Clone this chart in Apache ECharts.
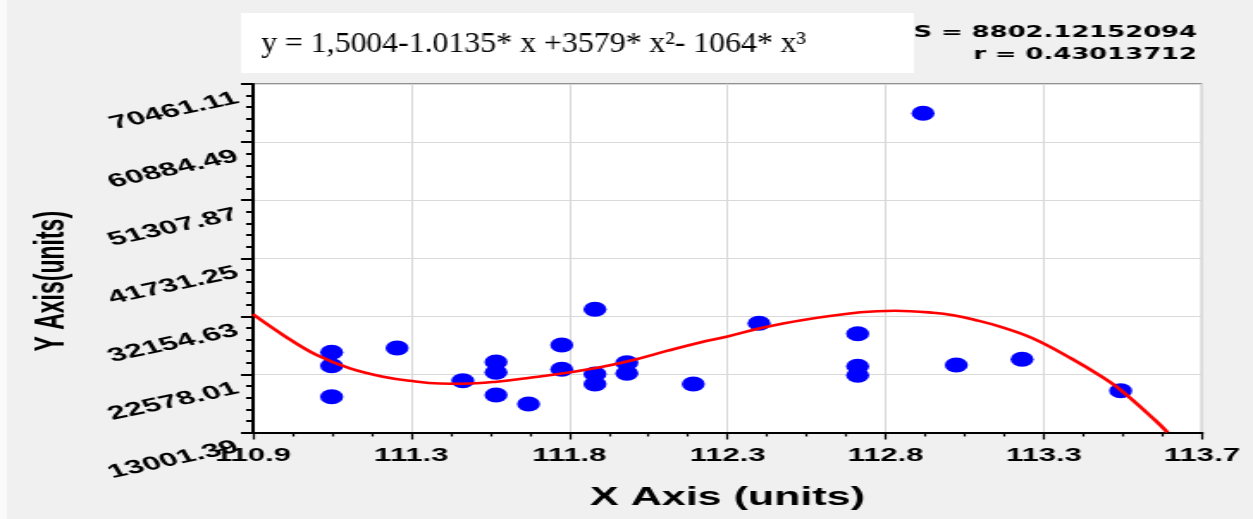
<!DOCTYPE html>
<html>
<head>
<meta charset="utf-8">
<script src="https://cdn.jsdelivr.net/npm/echarts@6/dist/echarts.min.js"></script>
<style>
  html, body { margin: 0; padding: 0; background: #f0f0f0; overflow: hidden; }
  #chart { width: 728px; height: 519px; transform-origin: 0 0; }
</style>
</head>
<body>
<div id="chart"></div>
<script>
// ---- data ----
const xTickLabels = ['110.9', '111.3', '111.8', '112.3', '112.8', '113.3', '113.7'];
const yTickLabels = ['13001.39', '22578.01', '32154.63', '41731.25', '51307.87', '60884.49', '70461.11'];
const X_MIN = 110.9, X_MAX = 113.7;
const Y_MIN = 13001.39, Y_MAX = 70461.11, Y_STEP = 9576.62;

const pointX = [111.132, 111.132, 111.132, 111.325, 111.519, 111.617, 111.617, 111.617, 111.713,
                111.811, 111.811, 111.909, 111.909, 111.909, 112.003, 112.003, 112.199, 112.393,
                112.684, 112.684, 112.684, 112.877, 112.975, 113.169, 113.460];
const pointY = [26224, 24014, 18904, 26933, 21541, 24625, 22926, 19184, 17700,
                27427, 23421, 33313, 22646, 20997, 24509, 22761, 20997, 31005,
                29290, 23915, 22432, 65628, 24130, 25069, 19893];

const curveX = [110.9, 110.989, 111.088, 111.186, 111.284, 111.363, 111.452, 111.520, 111.619, 111.727,
                111.816, 111.924, 112.022, 112.121, 112.219, 112.297, 112.396, 112.523, 112.692, 112.794,
                112.907, 112.970, 113.031, 113.104, 113.200, 113.313, 113.404, 113.460, 113.561, 113.598];
const curveY = [32489, 29076, 25778, 23586, 22201, 21525, 21080, 21047, 21376, 22102,
                22761, 23751, 24954, 26450, 27850, 28796, 30180, 31549, 32818, 33082,
                32752, 32290, 31549, 30450, 28532, 25234, 22201, 20008, 15062, 13034];

const equationText = 'y = 1,5004-1.0135* x +3579* x\u00B2- 1064* x\u00B3';
const statS = 'S = 8802.12152094';
const statR = 'r = 0.43013712';

// ---- layout (reference is horizontally stretched) ----
const SX = 1253 / 728;
const dom = document.getElementById('chart');
dom.style.transform = 'scaleX(' + SX + ')';
const X_STEP = (X_MAX - X_MIN) / 6;

const chart = echarts.init(dom);
chart.setOption({
  backgroundColor: '#f0f0f0',
  animation: false,
  grid: {
    left: 253 / SX, right: 728 - 1202 / SX, top: 84, bottom: 86.5,
    show: true, backgroundColor: '#ffffff', borderColor: '#333', borderWidth: 1
  },
  xAxis: {
    type: 'value', min: X_MIN, max: X_MAX, interval: X_STEP,
    name: 'X Axis (units)', nameLocation: 'middle', nameGap: 53,
    nameTextStyle: { fontFamily: 'Liberation Sans', fontWeight: 'bold', fontSize: 25, color: '#000' },
    axisLine: { show: true, onZero: false, lineStyle: { color: '#000', width: 2 } },
    axisTick: { show: true, length: 7, lineStyle: { color: '#000', width: 1.2 } },
    minorTick: { show: true, splitNumber: 4, length: 4, lineStyle: { color: '#000', width: 1.2 } },
    splitLine: { show: true, lineStyle: { color: '#d9d9d9', width: 1 } },
    axisLabel: {
      margin: 15, fontFamily: 'Liberation Sans', fontWeight: 'bold', fontSize: 18, color: '#000',
      showMinLabel: true, showMaxLabel: true,
      formatter: function (v) {
        const i = Math.round((v - X_MIN) / X_STEP);
        return xTickLabels[i] !== undefined ? xTickLabels[i] : '';
      }
    }
  },
  yAxis: {
    type: 'value', min: Y_MIN, max: Y_MAX, interval: Y_STEP,
    name: 'Y Axis(units)', nameLocation: 'middle', nameGap: 105, nameRotate: 90,
    nameTextStyle: { fontFamily: 'Liberation Sans', fontWeight: 'bold', fontSize: 23, color: '#000', padding: [0, 46, 0, 0] },
    axisLine: { show: true, onZero: false, lineStyle: { color: '#000', width: 2 } },
    axisTick: { show: true, length: 7, lineStyle: { color: '#000', width: 2 } },
    minorTick: { show: true, splitNumber: 5, length: 4, lineStyle: { color: '#000', width: 2 } },
    splitLine: { show: true, lineStyle: { color: '#d9d9d9', width: 1 } },
    axisLabel: {
      margin: 14, rotate: 20, align: 'right', verticalAlign: 'top', padding: [5, 0, 0, 0],
      fontFamily: 'Liberation Sans', fontWeight: 'bold', fontSize: 19, color: '#000',
      showMinLabel: true, showMaxLabel: true,
      formatter: function (v) {
        const i = Math.round((v - Y_MIN) / Y_STEP);
        return yTickLabels[i] !== undefined ? yTickLabels[i] : '';
      }
    }
  },
  series: [
    {
      type: 'scatter', name: 'data',
      data: pointX.map((x, i) => [x, pointY[i]]),
      symbol: 'circle', symbolSize: [13.4, 15],
      itemStyle: { color: '#0000ff', opacity: 1 }
    },
    {
      type: 'line', name: 'fit',
      data: curveX.map((x, i) => [x, curveY[i]]),
      showSymbol: false, smooth: 0.4,
      lineStyle: { color: '#ff0000', width: 2.6 },
      itemStyle: { color: '#ff0000' }
    }
  ],
  graphic: [
    {
      type: 'rect', left: 0, top: 0, z: -1,
      shape: { x: 0, y: 0, width: 7 / SX, height: 519 },
      style: { fill: '#fafafa' }, silent: true
    },
    {
      type: 'group', x: 241 / SX, y: 13, scaleX: 1 / SX,
      children: [
        { type: 'rect', shape: { x: 0, y: 0, width: 673, height: 60 }, style: { fill: '#ffffff' } },
        {
          type: 'text', x: 20, y: 31, scaleX: 1.06,
          style: { text: equationText, font: '30px "Liberation Serif"', fill: '#000', verticalAlign: 'middle', align: 'left' }
        }
      ]
    },
    {
      type: 'text', x: 1197 / SX, y: 33,
      style: { text: statS, font: 'bold 15px "DejaVu Sans"', fill: '#000', align: 'right', verticalAlign: 'middle' }
    },
    {
      type: 'text', x: 1197 / SX, y: 55,
      style: { text: statR, font: 'bold 15px "DejaVu Sans"', fill: '#000', align: 'right', verticalAlign: 'middle' }
    }
  ]
});
</script>
</body>
</html>
